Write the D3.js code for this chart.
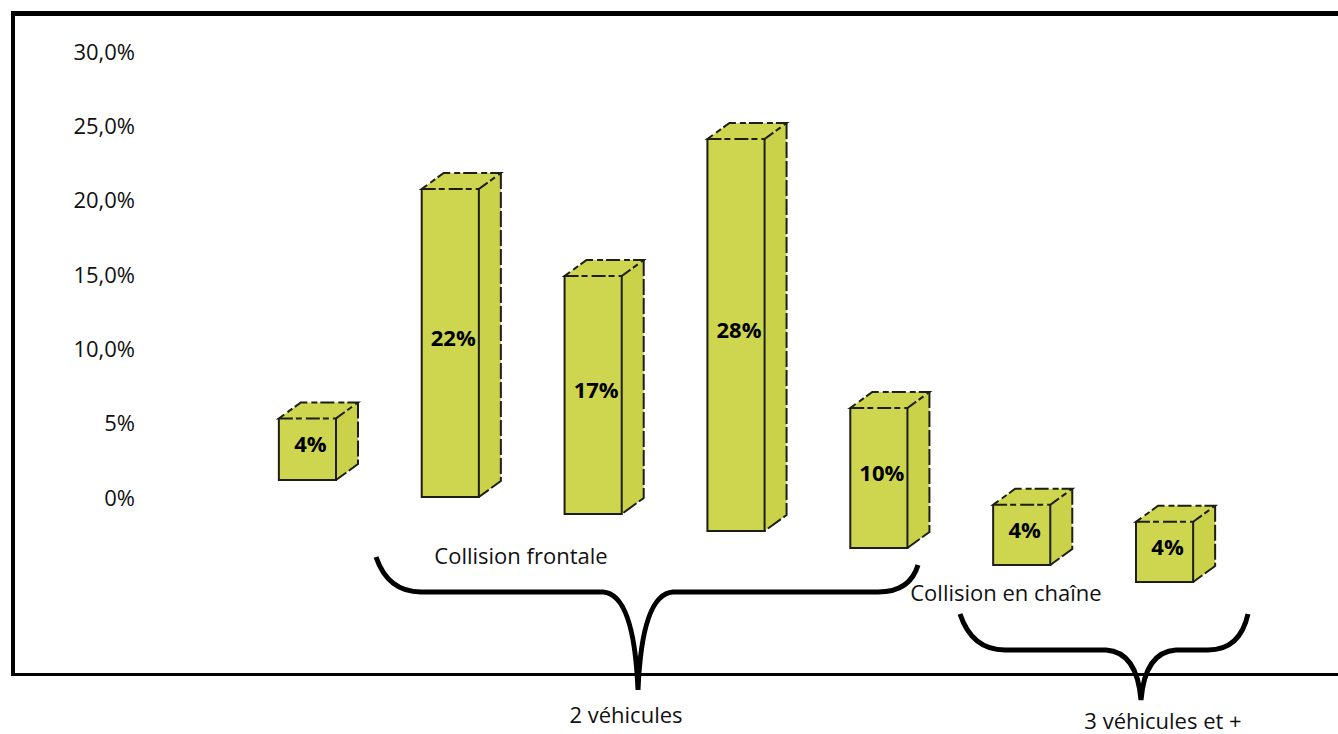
<!DOCTYPE html>
<html>
<head>
<meta charset="utf-8">
<script src="https://cdn.jsdelivr.net/npm/d3@7"></script>
<style>
  body { margin: 0; background: #fff; }
  text { font-family: "Open Sans", "Liberation Sans", sans-serif; }
</style>
</head>
<body>
<svg id="chart" width="1338" height="734"></svg>
<script>
// bar values (%); labels show them rounded
var categories = ["b1", "b2", "b3", "b4", "b5", "b6", "b7"];
var values = [4.4, 22, 17, 28, 10, 4.3, 4.3];

// y axis tick labels as printed
var tickValues = [0, 5, 10, 15, 20, 25, 30];
var tickLabels = ["0%", "5%", "10,0%", "15,0%", "20,0%", "25,0%", "30,0%"];

// group annotations
var subGroups = ["Collision frontale", "Collision en chaîne"];
var groups = ["2 véhicules", "3 véhicules et +"];

var width = 1338, height = 734;
var svg = d3.select("#chart");

var fillColor = "#cdd64e",
    sideColor = "#c9d249",
    edgeColor = "#1e1e14";

// frame
svg.append("line").attr("x1", 13).attr("x2", 13).attr("y1", 11).attr("y2", 676)
    .attr("stroke", "#000").attr("stroke-width", 4);
svg.append("line").attr("x1", 11).attr("x2", width).attr("y1", 13.5).attr("y2", 13.5)
    .attr("stroke", "#000").attr("stroke-width", 5);
svg.append("line").attr("x1", 11).attr("x2", width).attr("y1", 674.5).attr("y2", 674.5)
    .attr("stroke", "#000").attr("stroke-width", 3);

// axis labels (decorative scale, as in the original)
var yAxis = d3.scaleLinear().domain([0, 30]).range([498, 52]);

svg.append("g")
    .selectAll("text")
    .data(tickValues)
    .enter().append("text")
      .attr("x", 135)
      .attr("y", function(d) { return yAxis(d); })
      .attr("dy", "0.35em")
      .attr("text-anchor", "end")
      .attr("font-size", 22)
      .attr("fill", "#111")
      .text(function(d, i) { return tickLabels[i]; });

// bars
var x = d3.scaleBand()
    .domain(categories)
    .range([236, 1236])
    .paddingInner(0.6)
    .paddingOuter(0.3);

var h = d3.scaleLinear().domain([0, 28]).range([0, 392]);

// floor drops from left to right (skewed perspective)
var floor = d3.scaleLinear().domain([0, categories.length - 1]).range([480, 582]);

var dx = 22, dy = -16;
var w = x.bandwidth();

var bars = svg.append("g")
    .selectAll("g")
    .data(values)
    .enter().append("g");

bars.each(function(v, i) {
    var g = d3.select(this);
    var x0 = x(categories[i]), yb = floor(i), yt = yb - h(v);

    // side face
    g.append("polygon")
        .attr("points", [[x0 + w, yt], [x0 + w + dx, yt + dy], [x0 + w + dx, yb + dy], [x0 + w, yb]].join(" "))
        .attr("fill", sideColor);
    // top face
    g.append("polygon")
        .attr("points", [[x0, yt], [x0 + dx, yt + dy], [x0 + w + dx, yt + dy], [x0 + w, yt]].join(" "))
        .attr("fill", fillColor);
    // front face
    g.append("rect")
        .attr("x", x0).attr("y", yt)
        .attr("width", w).attr("height", yb - yt)
        .attr("fill", fillColor);

    // solid edges
    g.append("path")
        .attr("d", "M" + x0 + "," + yt + "V" + yb + "H" + (x0 + w) + "V" + yt)
        .attr("fill", "none").attr("stroke", edgeColor).attr("stroke-width", 2);
    // broken edges on top and back
    g.append("path")
        .attr("d", "M" + x0 + "," + yt + "H" + (x0 + w) + "L" + (x0 + w + dx) + "," + (yt + dy) +
              "H" + (x0 + dx) + "Z")
        .attr("fill", "none").attr("stroke", edgeColor).attr("stroke-width", 2)
        .attr("stroke-dasharray", "14,3,6,4");
    g.append("path")
        .attr("d", "M" + (x0 + w + dx) + "," + (yt + dy) + "V" + (yb + dy) + "L" + (x0 + w) + "," + yb)
        .attr("fill", "none").attr("stroke", edgeColor).attr("stroke-width", 2)
        .attr("stroke-dasharray", "16,3");

    g.append("text")
        .attr("x", x0 + w / 2 + 3)
        .attr("y", (yt + yb) / 2 - 5)
        .attr("dy", "0.35em")
        .attr("text-anchor", "middle")
        .attr("font-size", 22)
        .attr("font-weight", "bold")
        .attr("fill", "#000")
        .text(d3.format(".0f")(v) + "%");
});

// braces
function brace(x1, y1, x2, y2, yh, xm, ytip) {
    var p = d3.path();
    p.moveTo(x1, y1);
    p.quadraticCurveTo(x1 + 12, yh, x1 + 45, yh);
    p.lineTo(xm - 35, yh);
    p.quadraticCurveTo(xm - 4, yh + 2, xm, ytip);
    p.quadraticCurveTo(xm + 4, yh + 2, xm + 35, yh);
    p.lineTo(x2 - 40, yh);
    p.quadraticCurveTo(x2 - 8, yh, x2, y2);
    return p.toString();
}

svg.append("path")
    .attr("d", brace(376, 557, 918, 565, 592, 638, 690))
    .attr("fill", "none").attr("stroke", "#000").attr("stroke-width", 5);
svg.append("path")
    .attr("d", brace(960, 614, 1248, 614, 650, 1141, 700))
    .attr("fill", "none").attr("stroke", "#000").attr("stroke-width", 5);

// annotation texts
var notes = [
    { t: subGroups[0], x: 521, y: 556 },
    { t: subGroups[1], x: 1006, y: 593 },
    { t: groups[0], x: 626, y: 715 },
    { t: groups[1], x: 1163, y: 721 }
];

svg.append("g")
    .selectAll("text")
    .data(notes)
    .enter().append("text")
      .attr("x", function(d) { return d.x; })
      .attr("y", function(d) { return d.y; })
      .attr("dy", "0.35em")
      .attr("text-anchor", "middle")
      .attr("font-size", 22)
      .attr("fill", "#111")
      .text(function(d) { return d.t; });
</script>
</body>
</html>
